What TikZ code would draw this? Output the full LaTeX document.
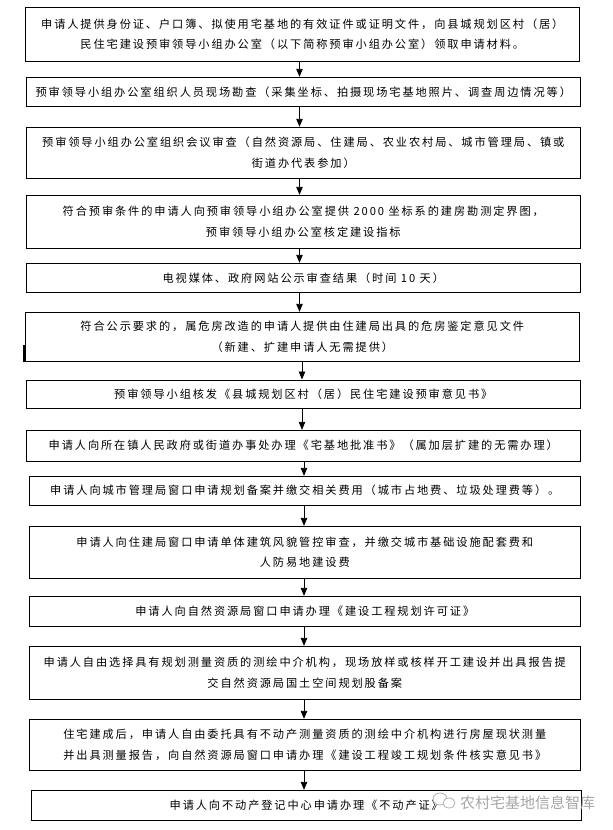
\documentclass[tikz,border=0pt]{standalone}
\usepackage{fontspec}
\newfontfamily\cjk{Noto Sans CJK SC}[LetterSpace=17]
\newfontfamily\cjkwm{Noto Sans CJK SC}
\usetikzlibrary{arrows.meta}
\newcommand\flowbox[6]{\node[box,minimum width={#4-#2},minimum height={#5-#3}] (#1) at ({(#2+#4)/2},{(#3+#5)/2}) {#6};}
\begin{document}
\begin{tikzpicture}[x=1pt,y=-1pt,
 box/.style={draw=black, line width=1pt, inner sep=0pt, align=center, font=\cjk\fontsize{11.2}{20.5}\selectfont},
 arr/.style={line width=0.9pt, -{Triangle[length=8pt,width=6.5pt]}},
 wmark/.style={gray!60, line width=0.8pt}]
\useasboundingbox[fill=white] (0,0) rectangle (613,830);
\flowbox{b1}{25.3}{7.3}{579.3}{61.3}{申请人提供身份证、户口簿、拟使用宅基地的有效证件或证明文件，向县城规划区村（居）\\民住宅建设预审领导小组办公室（以下简称预审小组办公室）领取申请材料。}
\flowbox{b2}{26.3}{77.3}{580.3}{106.3}{预审领导小组办公室组织人员现场勘查（采集坐标、拍摄现场宅基地照片、调查周边情况等）}
\flowbox{b3}{26.3}{127.3}{580.3}{178.3}{预审领导小组办公室组织会议审查（自然资源局、住建局、农业农村局、城市管理局、镇或\\街道办代表参加）}
\flowbox{b4}{26.3}{195.3}{580.3}{248.3}{符合预审条件的申请人向预审领导小组办公室提供 2000 坐标系的建房勘测定界图，\\预审领导小组办公室核定建设指标}
\flowbox{b5}{26.3}{263.3}{580.3}{292.3}{电视媒体、政府网站公示审查结果（时间 10 天）}
\flowbox{b6}{25.3}{312.3}{579.3}{361.3}{符合公示要求的，属危房改造的申请人提供由住建局出具的危房鉴定意见文件\\（新建、扩建申请人无需提供）}
\flowbox{b7}{26.3}{380}{580.3}{408.3}{预审领导小组核发《县城规划区村（居）民住宅建设预审意见书》}
\flowbox{b8}{26.3}{430.3}{580.3}{461}{申请人向所在镇人民政府或街道办事处办理《宅基地批准书》（属加层扩建的无需办理）}
\flowbox{b9}{29.3}{476.3}{580.3}{505}{申请人向城市管理局窗口申请规划备案并缴交相关费用（城市占地费、垃圾处理费等）。}
\flowbox{b10}{29.3}{526.3}{580.3}{578.3}{申请人向住建局窗口申请单体建筑风貌管控审查，并缴交城市基础设施配套费和\\人防易地建设费}
\flowbox{b11}{29.3}{596.3}{580.3}{626.3}{申请人向自然资源局窗口申请办理《建设工程规划许可证》}
\flowbox{b12}{29.3}{646.3}{580.3}{699.3}{申请人自由选择具有规划测量资质的测绘中介机构，现场放样或核样开工建设并出具报告提\\交自然资源局国土空间规划股备案}
\flowbox{b13}{29.3}{719.3}{580.3}{770.3}{住宅建成后，申请人自由委托具有不动产测量资质的测绘中介机构进行房屋现状测量\\并出具测量报告，向自然资源局窗口申请办理《建设工程竣工规划条件核实意见书》}
\flowbox{b14}{31.3}{790.3}{581.3}{820.3}{申请人向不动产登记中心申请办理《不动产证》}
% arrow columns
\coordinate (ax1) at (299.5,0);
\coordinate (ax2) at (302,0);
\coordinate (ax3) at (304,0);
\foreach \a/\b in {b1/b2,b2/b3,b3/b4,b4/b5,b5/b6}
  \draw[arr] (\a.south -| ax1) -- (\b.north -| ax1);
\foreach \a/\b in {b6/b7,b7/b8}
  \draw[arr] (\a.south -| ax2) -- (\b.north -| ax2);
\foreach \a/\b in {b8/b9,b9/b10,b10/b11,b11/b12,b12/b13,b13/b14}
  \draw[arr] (\a.south -| ax3) -- (\b.north -| ax3);
% stray mark left of box 6
\draw[line width=2pt] (23.6,345) -- (23.6,362);
% watermark
\draw[wmark, fill=white] (440,799) ellipse (7 and 6);
\draw[wmark, fill=white] (449,803) ellipse (6 and 5);
\node[font=\cjkwm\fontsize{15}{15}\selectfont, text=gray!70, inner sep=0pt, anchor=west] (wm) at (460,803) {农村宅基地信息智库};
\end{tikzpicture}
\end{document}
